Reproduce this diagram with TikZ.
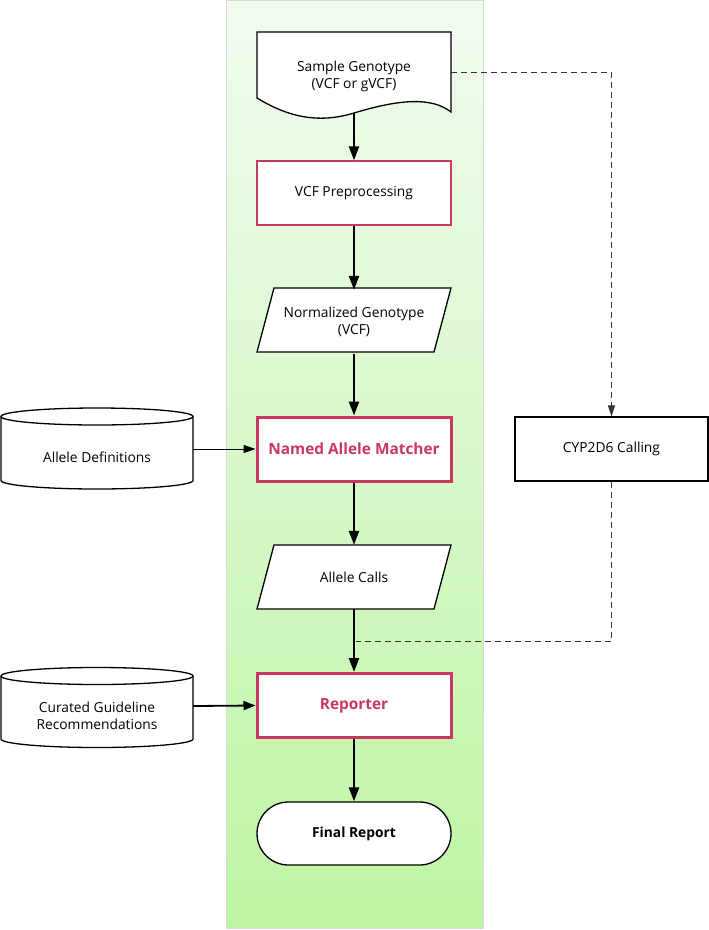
\documentclass[tikz,border=0pt]{standalone}
\usepackage{fontspec}
\setmainfont{Open Sans}
\usetikzlibrary{arrows.meta}
\definecolor{pinkc}{HTML}{C8385F}
\definecolor{gtop}{HTML}{F1FBF0}
\definecolor{gbot}{HTML}{BEF5A3}
\definecolor{dashc}{HTML}{333333}
\begin{document}
\begin{tikzpicture}[x=1pt,y=-1pt,
  txt/.style={inner sep=0pt, align=center, font=\fontsize{13.8}{17}\selectfont},
  slot/.style={txt, minimum width=194pt},
  plainbox/.style={slot, draw=black, line width=1.3pt, fill=white},
  pinkthin/.style={slot, draw=pinkc, line width=1.3pt, fill=white},
  pinkthick/.style={slot, draw=pinkc, line width=3pt, fill=white, text=pinkc,
    font=\fontsize{15.4}{18}\selectfont\bfseries},
  outline/.style={draw=black, line width=1.3pt, fill=white},
  mainarrow/.style={line width=2.4pt, -{Triangle[length=14pt,width=10pt]}},
  sidearrow/.style={line width=1pt, -{Triangle[length=12pt,width=8pt]}},
  sidearrowb/.style={line width=1.8pt, -{Triangle[length=12pt,width=9pt]}},
  dashline/.style={draw=dashc, line width=1pt, dash pattern=on 6pt off 4pt},
]
\useasboundingbox (0,0) rectangle (709,930);
% background band
\shade[top color=gtop, bottom color=gbot, draw=black!15, line width=0.6pt] (226,0.5) rectangle (483,928);

% Sample genotype (document shape)
\draw[outline] (257,32) -- (451,32) -- (451,112)
  .. controls (432,97) and (400,99) .. (354,113)
  .. controls (312,126) and (280,112) .. (257,98) -- cycle;
\node[slot, minimum height=66pt] (sg) at (354,76) {Sample Genotype\\(VCF or gVCF)};
\coordinate (sgb) at (354,113);

% VCF preprocessing
\node[pinkthin, minimum height=64pt] (vcf) at (354,193) {VCF Preprocessing};

% Normalized genotype (parallelogram)
\draw[outline] (274,288) -- (451,288) -- (434,352) -- (257,352) -- cycle;
\node[slot, minimum height=64pt] (norm) at (354,322) {Normalized Genotype\\(VCF)};

% Named allele matcher
\node[pinkthick, minimum height=64pt] (nam) at (354,449) {Named Allele Matcher};

% Allele calls (parallelogram)
\draw[outline] (274,545) -- (451,545) -- (434,609) -- (257,609) -- cycle;
\node[slot, minimum height=64pt] (calls) at (354,577) {Allele Calls};

% Reporter
\node[pinkthick, minimum height=64pt] (rep) at (354,705.5) {Reporter};

% Final report
\node[slot, minimum height=63pt, draw=black, line width=1.3pt, fill=white,
  rounded corners=31.5pt, font=\fontsize{13.8}{18}\selectfont\bfseries] (fin) at (354,833.5) {Final Report};

% CYP2D6
\node[plainbox, minimum width=193pt, minimum height=64pt] (cyp) at (611.5,449) {CYP2D6 Calling};

% Allele definitions (cylinder)
\draw[outline] (1,416.5) -- (1,480.5) arc[start angle=180, end angle=0, x radius=96, y radius=8.5] -- (193,416.5);
\draw[outline] (97,416.5) ellipse [x radius=96, y radius=8.5];
\node[txt, minimum width=192pt, minimum height=64pt] (ad) at (97,449) {};
\node[txt] at (97,457) {Allele Definitions};

% Curated guideline recommendations (cylinder)
\draw[outline] (1,676) -- (1,739) arc[start angle=180, end angle=0, x radius=96, y radius=8.5] -- (193,676);
\draw[outline] (97,676) ellipse [x radius=96, y radius=8.5];
\node[txt, minimum width=192pt, minimum height=64pt] (cg) at (97,706) {};
\node[txt] at (97,716) {Curated Guideline\\Recommendations};

% main flow
\draw[mainarrow] (sgb) -- (vcf.north);
\draw[mainarrow] (vcf.south) -- (norm.north);
\draw[mainarrow] (norm.south) -- (nam.north);
\draw[mainarrow] (nam.south) -- (calls.north);
\draw[mainarrow] (calls.south) -- (rep.north);
\draw[mainarrow] (rep.south) -- (fin.north);

% side inputs
\draw[sidearrow] (ad.east) -- (nam.west);
\draw[sidearrowb] (cg.east) -- (rep.west);

% dashed
\coordinate (j) at (356,641);
\draw[dashline, -{Triangle[length=11pt,width=7pt]}] (451,72) -| (cyp.north);
\draw[dashline] (cyp.south) |- (j);
\end{tikzpicture}
\end{document}
